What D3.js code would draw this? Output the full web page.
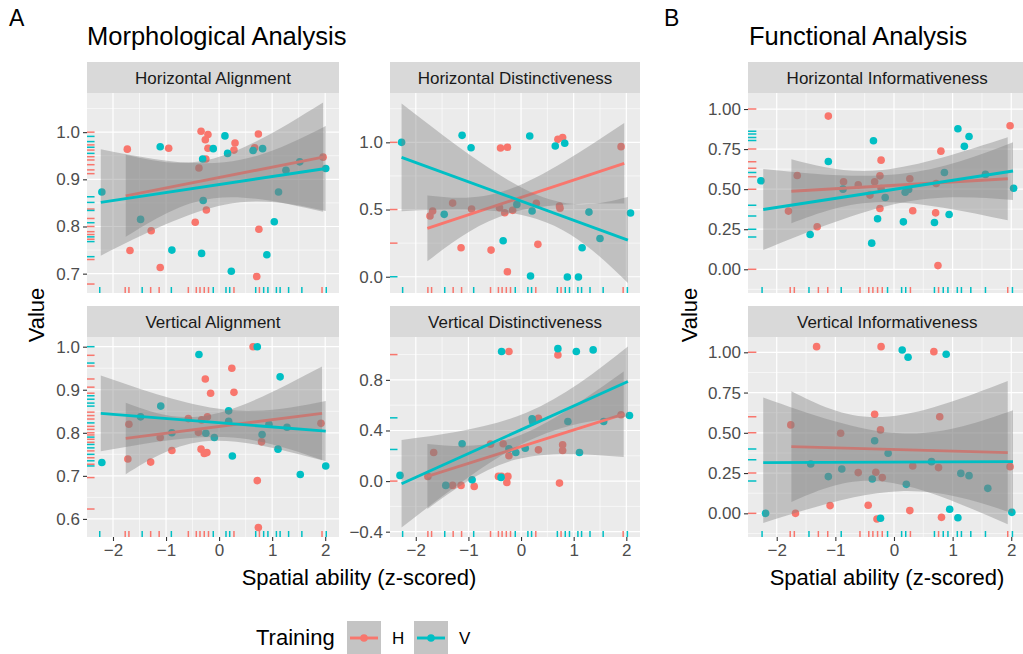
<!DOCTYPE html>
<html>
<head>
<meta charset="utf-8">
<script src="https://cdn.jsdelivr.net/npm/d3@7"></script>
<style>
  body { margin: 0; background: #fff; }
  text { font-family: "Liberation Sans", Arial, sans-serif; }
</style>
</head>
<body>
<div id="chart"></div>
<script>
// ---- data ----
// x positions of the participants (rug at the bottom of every panel)
var rugX_H = [-1.77, -1.70, -1.29, -1.13, -0.58, -0.43, -0.36, -0.28, -0.20, 0.28, 0.76, 1.94];
var rugX_V = [-2.25, -1.45, -0.90, -0.11, 0.13, 0.20, 0.69, 0.84, 0.92, 1.08, 1.15, 1.31, 1.56, 2.02];

// Horizontal Alignment
var ha_H = [[-1.73,0.964],[-0.95,0.966],[-1.68,0.749],[-1.28,0.791],[-1.11,0.713],[-0.45,0.809],[-0.34,1.002],[-0.21,0.995],[-0.26,0.984],[-0.21,0.966],[-0.25,0.943],[-0.38,0.924],[-0.24,0.835],[0.30,0.977],[0.28,0.962],[0.74,0.996],[0.75,0.794],[0.71,0.694],[0.67,0.967],[1.96,0.947]];
var ha_V = [[-2.21,0.873],[-1.48,0.815],[-1.11,0.969],[-0.89,0.750],[-0.33,0.743],[-0.31,0.943],[-0.30,0.855],[-0.11,0.965],[0.11,0.992],[0.16,0.955],[0.23,0.705],[0.64,0.961],[0.82,0.965],[0.90,0.740],[1.04,0.810],[1.12,0.873],[1.26,0.919],[1.52,0.937],[2.01,0.923]];
var ha_rugH = [1.0, 0.973, 0.962, 0.948, 0.941, 0.931, 0.920, 0.912, 0.837, 0.817, 0.800, 0.789, 0.783, 0.773, 0.730, 0.678];
var ha_rugV = [0.991, 0.980, 0.968, 0.955, 0.863, 0.851, 0.834, 0.808, 0.778, 0.768, 0.736];
var ha_fitH = { x: [-1.76, -0.1, 1.96], line: [0.865, 0.947], lo: [0.778, 0.860, 0.831], hi: [0.952, 0.944, 1.063] };
var ha_fitV = { x: [-2.23, 0.1, 2.01], line: [0.851, 0.923], lo: [0.738, 0.846, 0.833], hi: [0.964, 0.936, 1.013] };

// Horizontal Distinctiveness
var hd_H = [[-1.73,0.452],[-1.68,0.489],[-1.30,0.548],[-1.14,0.216],[-0.94,0.504],[-0.57,0.198],[-0.39,0.958],[-0.26,0.963],[-0.41,0.514],[-0.31,0.476],[-0.16,0.494],[-0.26,0.037],[0.29,0.546],[0.32,0.241],[0.70,1.022],[0.79,1.035],[0.73,0.526],[0.74,0.509],[1.90,0.968]];
var hd_V = [[-2.27,1.0],[-1.12,1.052],[-0.95,0.960],[-1.46,0.464],[-0.34,0.268],[0.165,1.047],[0.21,0.489],[-0.08,0.538],[0.18,0.005],[0.65,0.973],[0.83,0.993],[0.88,-0.002],[1.09,-0.002],[1.16,0.216],[1.29,0.481],[1.50,0.285],[2.08,0.474]];
var hd_rugH = [1.0, 0.5, 0.25];
var hd_rugV = [0.0];
var hd_fitH = { x: [-1.78, -0.2, 1.96], line: [0.360, 0.844], lo: [0.115, 0.474, 0.544], hi: [0.605, 0.654, 1.144] };
var hd_fitV = { x: [-2.27, 0.3, 2.03], line: [0.888, 0.273], lo: [0.488, 0.43, -0.047], hi: [1.288, 0.61, 0.593] };

// Vertical Alignment
var va_H = [[-1.70,0.820],[-1.72,0.739],[-1.29,0.732],[-1.11,0.789],[-0.89,0.759],[-0.58,0.833],[-0.39,0.801],[-0.33,0.830],[-0.22,0.837],[-0.26,0.925],[-0.16,0.892],[-0.34,0.762],[-0.28,0.752],[-0.23,0.754],[0.24,0.950],[0.28,0.894],[0.64,1.0],[0.80,0.779],[0.72,0.689],[0.74,0.580],[1.92,0.822]];
var va_V = [[-2.21,0.731],[-1.48,0.837],[-1.10,0.862],[-0.89,0.800],[-0.38,0.982],[-0.25,0.799],[-0.09,0.789],[0.18,0.851],[0.18,0.827],[0.25,0.746],[0.72,1.0],[0.81,0.796],[0.94,0.820],[1.11,0.762],[1.15,0.930],[1.28,0.813],[1.53,0.703],[2.01,0.723]];
var va_rugH = [0.98, 0.955, 0.925, 0.906, 0.892, 0.848, 0.84, 0.832, 0.815, 0.808, 0.80, 0.795, 0.785, 0.778, 0.758, 0.742, 0.727, 0.696, 0.623];
var va_rugV = [1.0, 0.962, 0.886, 0.878, 0.869, 0.862, 0.823, 0.79, 0.773, 0.765, 0.75, 0.735, 0.723];
var va_fitH = { x: [-1.76, -0.2, 1.94], line: [0.787, 0.845], lo: [0.704, 0.781, 0.736], hi: [0.870, 0.841, 0.954] };
var va_fitV = { x: [-2.23, 0.1, 2.01], line: [0.845, 0.804], lo: [0.757, 0.79, 0.734], hi: [0.933, 0.854, 0.874] };

// Vertical Distinctiveness
var vd_H = [[-1.66,0.226],[-1.77,0.037],[-1.30,-0.034],[-1.14,-0.034],[-0.89,-0.042],[-0.58,0.292],[-0.34,0.295],[-0.43,0.037],[-0.37,0.037],[-0.25,0.037],[-0.23,0.20],[-0.23,1.024],[-0.27,-0.011],[0.33,0.497],[0.33,0.247],[0.70,0.997],[0.73,-0.016],[0.79,0.287],[0.79,0.242],[1.90,0.524]];
var vd_V = [[-2.30,0.045],[-1.43,-0.034],[-1.12,0.295],[-0.93,0.011],[-0.37,1.024],[-0.38,0.029],[-0.23,0.255],[-0.10,0.226],[0.08,0.26],[0.21,0.492],[0.22,0.471],[0.70,1.047],[0.89,0.471],[1.05,1.024],[1.11,0.226],[1.37,1.037],[1.57,0.471],[2.06,0.518]];
var vd_rugH = [1.0, 0.0];
var vd_rugV = [0.5, 0.25];
var vd_fitH = { x: [-1.78, -0.1, 1.95], line: [0.037, 0.529], lo: [-0.22, 0.17, 0.191], hi: [0.294, 0.35, 0.867] };
var vd_fitV = { x: [-2.27, 0.1, 2.03], line: [-0.021, 0.787], lo: [-0.366, 0.31, 0.511], hi: [0.324, 0.54, 1.063] };

// Horizontal Informativeness
var hi_H = [[-1.80,0.363],[-1.65,0.585],[-1.31,0.265],[-1.12,0.956],[-0.86,0.546],[-0.61,0.527],[-0.41,0.463],[-0.33,0.546],[-0.24,0.583],[-0.22,0.681],[-0.24,0.379],[-0.22,0.504],[0.27,0.565],[0.32,0.365],[0.72,0.535],[0.71,0.352],[0.80,0.737],[0.75,0.023],[1.98,0.896]];
var hi_V = [[-2.27,0.552],[-1.43,0.217],[-1.12,0.673],[-0.87,0.50],[-0.38,0.163],[-0.35,0.802],[-0.28,0.315],[-0.15,0.448],[0.16,0.296],[0.19,0.481],[0.25,0.498],[0.69,0.292],[0.86,0.604],[0.94,0.342],[1.09,0.877],[1.20,0.767],[1.28,0.829],[1.56,0.592],[2.04,0.506]];
var hi_rugH = [1.0, 0.75, 0.671, 0.63, 0.577, 0.5, 0.0];
var hi_rugV = [0.862, 0.844, 0.823, 0.804, 0.604, 0.4, 0.333, 0.25, 0.202];
var hi_fitH = { x: [-1.75, -0.2, 1.94], line: [0.487, 0.565], lo: [0.287, 0.42, 0.306], hi: [0.687, 0.62, 0.824] };
var hi_fitV = { x: [-2.23, 0.1, 2.03], line: [0.373, 0.613], lo: [0.12, 0.414, 0.433], hi: [0.626, 0.594, 0.793] };

// Vertical Informativeness
var vi_H = [[-1.76,0.549],[-1.68,0.0],[-1.32,1.035],[-1.09,0.048],[-0.91,0.497],[-0.61,0.253],[-0.44,0.05],[-0.33,0.615],[-0.31,0.255],[-0.29,-0.035],[-0.23,0.518],[-0.22,1.035],[-0.20,0.222],[0.27,0.017],[0.32,0.294],[0.68,1.004],[0.76,0.284],[0.78,0.60],[0.81,-0.025],[1.98,0.29]];
var vi_V = [[-2.19,0.0],[-1.42,0.306],[-1.12,0.228],[-0.89,0.275],[-0.37,0.213],[-0.33,0.451],[-0.23,-0.031],[-0.10,0.373],[0.14,1.014],[0.21,0.18],[0.24,0.969],[0.64,0.321],[0.89,0.988],[0.95,0.025],[1.09,-0.027],[1.14,0.248],[1.28,0.234],[1.60,0.155],[2.01,0.006]];
var vi_rugH = [1.0, 0.6, 0.5, 0.25, 0.0];
var vi_rugV = [0.4, 0.333, 0.2];
var vi_fitH = { x: [-1.75, -0.2, 1.94], line: [0.414, 0.377], lo: [0.07, 0.198, -0.068], hi: [0.758, 0.598, 0.822] };
var vi_fitV = { x: [-2.23, 0.1, 2.03], line: [0.315, 0.321], lo: [-0.06, 0.137, 0.0], hi: [0.72, 0.497, 0.64] };

var xTicks = [-2, -1, 0, 1, 2];
var groups = ["H", "V"];

// ---- layout ----
var W = 1023, H = 654;
var colors = { H: "#F8766D", V: "#00BFC4" };
var cols = { a1: [87, 339], a2: [390, 640], b: [748, 1026.5] };
var rows = { top: [93, 293], bottom: [337, 537] };
var stripH = 31;
var xDomain = [-2.49, 2.26];
var ptR = 3.8, lineW = 2.9, fs = 17;

var panels = [
  { name: "Horizontal Alignment", col: "a1", row: "top", yDomain: [0.659, 1.083], ticks: [0.7, 0.8, 0.9, 1.0], fmt: ".1f",
    pts: { H: ha_H, V: ha_V }, rugY: { H: ha_rugH, V: ha_rugV }, fit: { H: ha_fitH, V: ha_fitV } },
  { name: "Horizontal Distinctiveness", col: "a2", row: "top", yDomain: [-0.121, 1.367], ticks: [0, 0.5, 1.0], fmt: ".1f",
    pts: { H: hd_H, V: hd_V }, rugY: { H: hd_rugH, V: hd_rugV }, fit: { H: hd_fitH, V: hd_fitV } },
  { name: "Vertical Alignment", col: "a1", row: "bottom", yDomain: [0.558, 1.0225], ticks: [0.6, 0.7, 0.8, 0.9, 1.0], fmt: ".1f",
    pts: { H: va_H, V: va_V }, rugY: { H: va_rugH, V: va_rugV }, fit: { H: va_fitH, V: va_fitV } },
  { name: "Vertical Distinctiveness", col: "a2", row: "bottom", yDomain: [-0.442, 1.139], ticks: [-0.4, 0, 0.4, 0.8], fmt: ".1f",
    pts: { H: vd_H, V: vd_V }, rugY: { H: vd_rugH, V: vd_rugV }, fit: { H: vd_fitH, V: vd_fitV } },
  { name: "Horizontal Informativeness", col: "b", row: "top", yDomain: [-0.148, 1.1], ticks: [0, 0.25, 0.5, 0.75, 1.0], fmt: ".2f",
    pts: { H: hi_H, V: hi_V }, rugY: { H: hi_rugH, V: hi_rugV }, fit: { H: hi_fitH, V: hi_fitV } },
  { name: "Vertical Informativeness", col: "b", row: "bottom", yDomain: [-0.147, 1.095], ticks: [0, 0.25, 0.5, 0.75, 1.0], fmt: ".2f",
    pts: { H: vi_H, V: vi_V }, rugY: { H: vi_rugH, V: vi_rugV }, fit: { H: vi_fitH, V: vi_fitV } }
];

var svg = d3.select("#chart").append("svg")
  .attr("width", W).attr("height", H)
  .style("display", "block");

function minorOf(ticks, domain) {
  var step = ticks[1] - ticks[0], out = [];
  for (var v = ticks[0] - step / 2; v <= domain[1]; v += step) {
    if (v >= domain[0]) out.push(v);
  }
  return out;
}

panels.forEach(function(p, pi) {
  var x0 = cols[p.col][0], x1 = cols[p.col][1];
  var y0 = rows[p.row][0], y1 = rows[p.row][1];

  var x = d3.scaleLinear().domain(xDomain).range([x0, x1]);
  var y = d3.scaleLinear().domain(p.yDomain).range([y1, y0]);

  svg.append("clipPath").attr("id", "clip" + pi)
    .append("rect").attr("x", x0).attr("y", y0).attr("width", x1 - x0).attr("height", y1 - y0);

  var g = svg.append("g").attr("clip-path", "url(#clip" + pi + ")");

  // panel background + grid
  g.append("rect").attr("x", x0).attr("y", y0).attr("width", x1 - x0).attr("height", y1 - y0).attr("fill", "#EBEBEB");

  var xMinor = minorOf(xTicks, xDomain), yMinor = minorOf(p.ticks, p.yDomain);
  g.selectAll(".vmin").data(xMinor).enter().append("line")
    .attr("x1", d => x(d)).attr("x2", d => x(d)).attr("y1", y0).attr("y2", y1)
    .attr("stroke", "#fff").attr("stroke-width", 0.6);
  g.selectAll(".hmin").data(yMinor).enter().append("line")
    .attr("x1", x0).attr("x2", x1).attr("y1", d => y(d)).attr("y2", d => y(d))
    .attr("stroke", "#fff").attr("stroke-width", 0.6);
  g.selectAll(".vmaj").data(xTicks).enter().append("line")
    .attr("x1", d => x(d)).attr("x2", d => x(d)).attr("y1", y0).attr("y2", y1)
    .attr("stroke", "#fff").attr("stroke-width", 1.2);
  g.selectAll(".hmaj").data(p.ticks).enter().append("line")
    .attr("x1", x0).attr("x2", x1).attr("y1", d => y(d)).attr("y2", d => y(d))
    .attr("stroke", "#fff").attr("stroke-width", 1.2);

  // points
  groups.forEach(function(k) {
    g.append("g").selectAll("circle").data(p.pts[k]).enter().append("circle")
      .attr("cx", d => x(d[0])).attr("cy", d => y(d[1])).attr("r", ptR)
      .attr("fill", colors[k]);
  });

  // smooth: ribbon then line, per group
  groups.forEach(function(k) {
    var f = p.fit[k];
    var band = f.x.map(function(v, i) { return [v, f.lo[i], f.hi[i]]; });
    g.append("path").datum(band)
      .attr("d", d3.area().x(d => x(d[0])).y0(d => y(d[1])).y1(d => y(d[2])).curve(d3.curveNatural))
      .attr("fill", "#7f7f7f").attr("fill-opacity", 0.4);
    g.append("line")
      .attr("x1", x(f.x[0])).attr("y1", y(f.line[0]))
      .attr("x2", x(f.x[2])).attr("y2", y(f.line[1]))
      .attr("stroke", colors[k]).attr("stroke-width", lineW);
  });

  // rugs
  var rugX = { H: rugX_H, V: rugX_V };
  groups.forEach(function(k) {
    g.append("g").selectAll("line").data(rugX[k]).enter().append("line")
      .attr("x1", d => x(d)).attr("x2", d => x(d)).attr("y1", y1).attr("y2", y1 - 6)
      .attr("stroke", colors[k]).attr("stroke-width", 1.5);
    g.append("g").selectAll("line").data(p.rugY[k]).enter().append("line")
      .attr("x1", x0).attr("x2", x0 + (x1 - x0) * 0.03).attr("y1", d => y(d)).attr("y2", d => y(d))
      .attr("stroke", colors[k]).attr("stroke-width", 1.5);
  });

  // strip
  svg.append("rect").attr("x", x0).attr("y", y0 - stripH).attr("width", x1 - x0).attr("height", stripH)
    .attr("fill", "#D9D9D9");
  svg.append("text").attr("x", (x0 + x1) / 2).attr("y", y0 - stripH / 2 + 6)
    .attr("text-anchor", "middle").attr("font-size", fs).attr("fill", "#1A1A1A").text(p.name);

  // y axis
  var yAxis = svg.append("g").attr("transform", "translate(" + x0 + ",0)")
    .call(d3.axisLeft(y).tickValues(p.ticks).tickFormat(d3.format(p.fmt)).tickSize(4).tickPadding(3));
  yAxis.select(".domain").remove();
  yAxis.selectAll(".tick line").attr("stroke", "#333").attr("stroke-width", 1.1);
  yAxis.selectAll(".tick text").attr("fill", "#4D4D4D").attr("font-size", fs)
    .attr("font-family", "Liberation Sans, Arial, sans-serif");

  // x axis only on bottom row
  if (p.row == "bottom") {
    var xAxis = svg.append("g").attr("transform", "translate(0," + y1 + ")")
      .call(d3.axisBottom(x).tickValues(xTicks).tickFormat(d3.format("d")).tickSize(4).tickPadding(3));
    xAxis.select(".domain").remove();
    xAxis.selectAll(".tick line").attr("stroke", "#333").attr("stroke-width", 1.1);
    xAxis.selectAll(".tick text").attr("fill", "#4D4D4D").attr("font-size", fs)
      .attr("font-family", "Liberation Sans, Arial, sans-serif");
  }
});

// ---- titles ----
svg.append("text").attr("x", 9).attr("y", 26).attr("font-size", 23).attr("fill", "#000").text("A");
svg.append("text").attr("x", 664).attr("y", 26).attr("font-size", 23).attr("fill", "#000").text("B");
svg.append("text").attr("x", 87).attr("y", 45).attr("font-size", 25.5).attr("fill", "#000").text("Morphological Analysis");
svg.append("text").attr("x", 749).attr("y", 45).attr("font-size", 25.5).attr("fill", "#000").text("Functional Analysis");

// axis titles
svg.append("text").attr("x", 359).attr("y", 585)
  .attr("text-anchor", "middle").attr("font-size", 22).attr("fill", "#000").text("Spatial ability (z-scored)");
svg.append("text").attr("x", 887).attr("y", 585)
  .attr("text-anchor", "middle").attr("font-size", 22).attr("fill", "#000").text("Spatial ability (z-scored)");
[44, 697].forEach(function(cx) {
  svg.append("text").attr("transform", "translate(" + cx + "," + (rows.top[1] + rows.bottom[0]) / 2 + ") rotate(-90)")
    .attr("text-anchor", "middle").attr("font-size", 22).attr("fill", "#000").text("Value");
});

// ---- legend ----
var legend = svg.append("g");
legend.append("text").attr("x", 256).attr("y", 645).attr("font-size", 22).attr("fill", "#000").text("Training");
groups.forEach(function(k, i) {
  var kx = 347 + i * 67, ky = 621;
  legend.append("rect").attr("x", kx).attr("y", ky).attr("width", 34).attr("height", 34).attr("fill", "#C4C4C4");
  legend.append("line").attr("x1", kx + 3).attr("x2", kx + 31).attr("y1", ky + 17).attr("y2", ky + 17)
    .attr("stroke", colors[k]).attr("stroke-width", lineW);
  legend.append("circle").attr("cx", kx + 17).attr("cy", ky + 17).attr("r", ptR).attr("fill", colors[k]);
  legend.append("text").attr("x", kx + 45).attr("y", ky + 23).attr("font-size", fs).attr("fill", "#000").text(k);
});
</script>
</body>
</html>
